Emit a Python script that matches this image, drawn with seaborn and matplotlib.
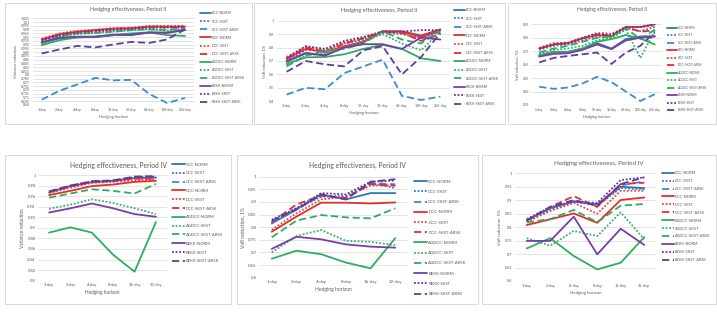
import matplotlib
matplotlib.use("Agg")
import matplotlib.pyplot as plt
from matplotlib.patches import Rectangle
import numpy as np
import pandas as pd
import seaborn as sns

SERIES = [
    "CCC-NORM", "CCC-SKST", "CCC-SKST-ARSK",
    "DCC-NORM", "DCC-SKST", "DCC-SKST-ARSK",
    "AGDCC-NORM", "AGDCC-SKST", "AGDCC-SKST-ARSK",
    "BEKK-NORM", "BEKK-SKST", "BEKK-SKST-ARSK",
]
HORIZONS_II = ["1-day", "2-day", "4-day", "8-day", "16-day", "32-day", "64-day", "128-day", "256-day"]
HORIZONS_IV = ["1-day", "2-day", "4-day", "8-day", "16-day", "32-day"]

# Period II, variance reduction
var_ii = {
    "CCC-NORM": [0.927, 0.945, 0.949, 0.950, 0.958, 0.958, 0.969, 0.968, 0.980],
    "CCC-SKST": [0.935, 0.955, 0.965, 0.970, 0.975, 0.980, 0.985, 0.975, 0.985],
    "CCC-SKST-ARSK": [0.701, 0.737, 0.762, 0.788, 0.778, 0.780, 0.724, 0.688, 0.708],
    "DCC-NORM": [0.941, 0.962, 0.972, 0.978, 0.984, 0.985, 0.992, 0.992, 0.992],
    "DCC-SKST": [0.944, 0.965, 0.975, 0.980, 0.986, 0.988, 0.995, 0.995, 0.995],
    "DCC-SKST-ARSK": [0.940, 0.961, 0.971, 0.977, 0.983, 0.985, 0.991, 0.990, 0.990],
    "AGDCC-NORM": [0.918, 0.938, 0.949, 0.952, 0.958, 0.965, 0.969, 0.958, 0.955],
    "AGDCC-SKST": [0.928, 0.952, 0.962, 0.966, 0.972, 0.977, 0.982, 0.975, 0.978],
    "AGDCC-SKST-ARSK": [0.925, 0.954, 0.965, 0.967, 0.972, 0.978, 0.981, 0.980, 0.985],
    "BEKK-NORM": [0.930, 0.948, 0.952, 0.952, 0.960, 0.960, 0.968, 0.967, 0.978],
    "BEKK-SKST": [0.938, 0.958, 0.968, 0.974, 0.980, 0.984, 0.990, 0.988, 0.993],
    "BEKK-SKST-ARSK": [0.885, 0.901, 0.915, 0.909, 0.921, 0.931, 0.927, 0.941, 0.981],
}

# Period II, VaR reduction 1%
var1_ii = {
    "CCC-NORM": [0.70, 0.76, 0.745, 0.80, 0.84, 0.92, 0.92, 0.88, 0.93],
    "CCC-SKST": [0.70, 0.78, 0.78, 0.83, 0.86, 0.91, 0.90, 0.87, 0.92],
    "CCC-SKST-ARSK": [0.45, 0.50, 0.49, 0.61, 0.66, 0.71, 0.44, 0.41, 0.435],
    "DCC-NORM": [0.715, 0.79, 0.765, 0.81, 0.845, 0.92, 0.92, 0.89, 0.935],
    "DCC-SKST": [0.73, 0.81, 0.78, 0.84, 0.87, 0.92, 0.91, 0.87, 0.92],
    "DCC-SKST-ARSK": [0.72, 0.80, 0.77, 0.83, 0.87, 0.92, 0.91, 0.85, 0.90],
    "AGDCC-NORM": [0.68, 0.727, 0.73, 0.75, 0.79, 0.82, 0.79, 0.72, 0.70],
    "AGDCC-SKST": [0.67, 0.74, 0.76, 0.80, 0.85, 0.90, 0.83, 0.78, 0.92],
    "AGDCC-SKST-ARSK": [0.66, 0.74, 0.78, 0.79, 0.83, 0.92, 0.86, 0.83, 0.93],
    "BEKK-NORM": [0.695, 0.757, 0.74, 0.80, 0.825, 0.825, 0.79, 0.875, 0.86],
    "BEKK-SKST": [0.72, 0.81, 0.79, 0.85, 0.88, 0.92, 0.92, 0.93, 0.93],
    "BEKK-SKST-ARSK": [0.62, 0.70, 0.675, 0.66, 0.78, 0.81, 0.60, 0.73, 0.91],
}

# Period II, VaR reduction 5%
var5_ii = {
    "CCC-NORM": [0.72, 0.745, 0.745, 0.77, 0.81, 0.77, 0.84, 0.86, 0.86],
    "CCC-SKST": [0.76, 0.79, 0.80, 0.83, 0.86, 0.85, 0.92, 0.90, 0.93],
    "CCC-SKST-ARSK": [0.486, 0.47, 0.48, 0.51, 0.56, 0.52, 0.45, 0.38, 0.43],
    "DCC-NORM": [0.77, 0.80, 0.81, 0.845, 0.87, 0.86, 0.93, 0.93, 0.95],
    "DCC-SKST": [0.775, 0.81, 0.815, 0.85, 0.885, 0.88, 0.93, 0.93, 0.94],
    "DCC-SKST-ARSK": [0.77, 0.80, 0.81, 0.845, 0.875, 0.865, 0.93, 0.895, 0.905],
    "AGDCC-NORM": [0.715, 0.745, 0.745, 0.77, 0.82, 0.84, 0.87, 0.845, 0.80],
    "AGDCC-SKST": [0.73, 0.76, 0.77, 0.79, 0.83, 0.85, 0.91, 0.70, 0.90],
    "AGDCC-SKST-ARSK": [0.74, 0.77, 0.79, 0.82, 0.85, 0.86, 0.92, 0.84, 0.91],
    "BEKK-NORM": [0.71, 0.73, 0.735, 0.76, 0.80, 0.765, 0.83, 0.85, 0.86],
    "BEKK-SKST": [0.77, 0.80, 0.81, 0.85, 0.88, 0.87, 0.93, 0.93, 0.95],
    "BEKK-SKST-ARSK": [0.667, 0.70, 0.715, 0.727, 0.74, 0.655, 0.74, 0.79, 0.89],
}

# Period IV, variance reduction
var_iv = {
    "CCC-NORM": [0.967, 0.979, 0.986, 0.989, 0.994, 0.995],
    "CCC-SKST": [0.967, 0.979, 0.987, 0.989, 0.995, 0.996],
    "CCC-SKST-ARSK": [0.968, 0.979, 0.987, 0.989, 0.995, 0.997],
    "DCC-NORM": [0.962, 0.970, 0.979, 0.982, 0.987, 0.989],
    "DCC-SKST": [0.966, 0.976, 0.985, 0.987, 0.990, 0.991],
    "DCC-SKST-ARSK": [0.968, 0.978, 0.987, 0.989, 0.993, 0.993],
    "AGDCC-NORM": [0.891, 0.901, 0.891, 0.849, 0.817, 0.911],
    "AGDCC-SKST": [0.936, 0.944, 0.954, 0.947, 0.937, 0.926],
    "AGDCC-SKST-ARSK": [0.957, 0.965, 0.973, 0.970, 0.965, 0.983],
    "BEKK-NORM": [0.929, 0.937, 0.946, 0.937, 0.926, 0.921],
    "BEKK-SKST": [0.968, 0.980, 0.988, 0.989, 0.996, 0.997],
    "BEKK-SKST-ARSK": [0.969, 0.980, 0.988, 0.990, 0.997, 0.998],
}

# Period IV, VaR reduction 1%
var1_iv = {
    "CCC-NORM": [0.815, 0.87, 0.93, 0.91, 0.935, 0.935],
    "CCC-SKST": [0.82, 0.875, 0.92, 0.925, 0.975, 0.955],
    "CCC-SKST-ARSK": [0.815, 0.87, 0.925, 0.915, 0.975, 0.97],
    "DCC-NORM": [0.782, 0.842, 0.897, 0.897, 0.894, 0.898],
    "DCC-SKST": [0.79, 0.855, 0.91, 0.92, 0.965, 0.965],
    "DCC-SKST-ARSK": [0.82, 0.89, 0.925, 0.915, 0.97, 0.965],
    "AGDCC-NORM": [0.675, 0.707, 0.693, 0.66, 0.637, 0.757],
    "AGDCC-SKST": [0.70, 0.765, 0.789, 0.746, 0.742, 0.729],
    "AGDCC-SKST-ARSK": [0.76, 0.826, 0.848, 0.839, 0.835, 0.875],
    "BEKK-NORM": [0.714, 0.762, 0.752, 0.732, 0.723, 0.719],
    "BEKK-SKST": [0.83, 0.875, 0.935, 0.93, 0.98, 0.985],
    "BEKK-SKST-ARSK": [0.825, 0.87, 0.93, 0.91, 0.98, 0.99],
}

# Period IV, VaR reduction 5%
var5_iv = {
    "CCC-NORM": [0.825, 0.87, 0.895, 0.885, 0.95, 0.945],
    "CCC-SKST": [0.82, 0.865, 0.895, 0.88, 0.945, 0.94],
    "CCC-SKST-ARSK": [0.825, 0.87, 0.90, 0.88, 0.955, 0.97],
    "DCC-NORM": [0.808, 0.829, 0.851, 0.816, 0.901, 0.91],
    "DCC-SKST": [0.82, 0.86, 0.89, 0.85, 0.935, 0.935],
    "DCC-SKST-ARSK": [0.825, 0.875, 0.915, 0.875, 0.96, 0.965],
    "AGDCC-NORM": [0.721, 0.759, 0.693, 0.643, 0.668, 0.763],
    "AGDCC-SKST": [0.759, 0.731, 0.786, 0.767, 0.855, 0.755],
    "AGDCC-SKST-ARSK": [0.818, 0.83, 0.864, 0.818, 0.88, 0.886],
    "BEKK-NORM": [0.749, 0.749, 0.839, 0.699, 0.794, 0.734],
    "BEKK-SKST": [0.83, 0.875, 0.895, 0.89, 0.975, 0.985],
    "BEKK-SKST-ARSK": [0.825, 0.875, 0.90, 0.88, 0.96, 0.985],
}

PALETTE = {
    "CCC-NORM": "#2E75B6", "CCC-SKST": "#4472C4", "CCC-SKST-ARSK": "#3A8DD0",
    "DCC-NORM": "#E62B2B", "DCC-SKST": "#E04848", "DCC-SKST-ARSK": "#E62B2B",
    "AGDCC-NORM": "#2EAD5E", "AGDCC-SKST": "#33B36A", "AGDCC-SKST-ARSK": "#2EAD5E",
    "BEKK-NORM": "#7A3DA8", "BEKK-SKST": "#7030A0", "BEKK-SKST-ARSK": "#5B3E9E",
}
DASHES = {s: ("" if s.endswith("NORM") else (1, 1) if s.endswith("-SKST") else (4, 2)) for s in SERIES}

W, H = 717, 314
TXT = "#595959"
GRID = "#D9D9D9"

sns.set_theme(style="white")
plt.rcParams["font.family"] = ["Lato", "DejaVu Sans"]


def px(x0, y0, x1, y1):
    return [x0 / W, 1 - y1 / H, (x1 - x0) / W, (y1 - y0) / H]


def long_frame(values, horizons):
    rows = []
    for s in SERIES:
        for h, v in zip(horizons, values[s]):
            rows.append({"horizon": h, "value": v, "series": s})
    return pd.DataFrame(rows)


panels = [
    dict(data=var_ii, hz=HORIZONS_II, box=(5, 3, 252, 124), ax=(32.7, 18.3, 194, 105),
         yt=np.arange(0.68, 1.026, 0.015), yl="Variance reduction", title="Hedging effectiveness, Period II",
         ty=10, leg=(200, 11.5, 8.4), fs=(4.0, 2.5, 2.6)),
    dict(data=var1_ii, hz=HORIZONS_II, box=(254, 3, 505, 124), ax=(277, 20.7, 450, 101.3),
         yt=np.arange(0.4, 1.001, 0.1), yl="VaR reduction, 1%", title="Hedging effectiveness, Period II",
         ty=10.7, leg=(454, 8.0, 8.9), fs=(4.0, 2.6, 2.6)),
    dict(data=var5_ii, hz=HORIZONS_II, box=(508, 3, 716, 124), ax=(532, 24.3, 662, 105),
         yt=np.arange(0.35, 0.951, 0.1), yl="VaR reduction, 5%", title="Hedging effectiveness, Period II",
         ty=9, leg=(667, 26.0, 7.3), fs=(3.6, 2.3, 2.3)),
    dict(data=var_iv, hz=HORIZONS_IV, box=(5, 155, 231, 304), ax=(38.4, 175, 166.6, 280.7),
         yt=np.arange(0.8, 1.001, 0.02), yl="Variance reduction", title="Hedging effectiveness, Period IV",
         ty=165, leg=(172, 162.5, 9.8), fs=(4.9, 3.0, 3.0)),
    dict(data=var1_iv, hz=HORIZONS_IV, box=(237, 155, 478, 304), ax=(259.4, 176.7, 407.6, 277.7),
         yt=np.arange(0.6, 1.001, 0.05), yl="VaR reduction, 1%", title="Hedging effectiveness, Period IV",
         ty=165, leg=(414, 179.5, 11.4), fs=(4.9, 3.2, 3.1)),
    dict(data=var5_iv, hz=HORIZONS_IV, box=(482, 155, 716, 304), ax=(515, 173.3, 656, 281),
         yt=np.arange(0.6, 1.001, 0.05), yl="VaR reduction, 5%", title="Hedging effectiveness, Period IV",
         ty=164, leg=(662, 171, 8.6), fs=(4.5, 2.8, 2.8)),
]

fig = plt.figure(figsize=(W / 100, H / 100), dpi=100)
fig.patch.set_facecolor("white")

for p in panels:
    bx0, by0, bx1, by1 = p["box"]
    fig.patches.append(Rectangle((bx0 / W, 1 - by1 / H), (bx1 - bx0) / W, (by1 - by0) / H,
                                 transform=fig.transFigure, facecolor="none",
                                 edgecolor=GRID, linewidth=0.7, zorder=-1))
    fs_title, fs_tick, fs_leg = p["fs"]
    ax = fig.add_axes(px(*p["ax"]))
    ax.set_facecolor("none")
    df = long_frame(p["data"], p["hz"])
    sns.lineplot(data=df, x="horizon", y="value", hue="series", style="series",
                 palette=PALETTE, dashes=DASHES, sort=False, linewidth=1.3, ax=ax)
    yt = np.round(p["yt"], 3)
    ax.set_ylim(yt[0], yt[-1])
    ax.set_yticks(yt)
    ax.set_yticklabels([f"{v:g}" for v in yt])
    ax.set_xlim(-0.5, len(p["hz"]) - 0.5)
    ax.grid(axis="y", color=GRID, linewidth=0.5)
    ax.set_axisbelow(True)
    for sp in ax.spines.values():
        sp.set_visible(False)
    ax.tick_params(length=0, labelsize=fs_tick, colors=TXT, pad=2)
    ax.set_xlabel("Hedging horizon", fontsize=fs_tick + 0.4, color=TXT, labelpad=2)
    ax.set_ylabel(p["yl"], fontsize=fs_tick + 0.4, color=TXT, labelpad=2)
    fig.text((bx0 + bx1) / 2 / W, 1 - p["ty"] / H, p["title"], ha="center", va="center",
             fontsize=fs_title, color=TXT)

    lx, ly, sp = p["leg"]
    handles, labels = ax.get_legend_handles_labels()
    fs_px = fs_leg * 100 / 72
    ls = max((sp - 1.2 * fs_px) / fs_px, 0.1)
    ax.legend(handles, labels, loc="upper left", bbox_to_anchor=(lx / W, 1 - ly / H),
              bbox_transform=fig.transFigure, frameon=False, fontsize=fs_leg,
              labelcolor=TXT, handlelength=3.0, handletextpad=0.3, labelspacing=ls,
              borderpad=0, borderaxespad=0)

fig.savefig("out.png", dpi=100, facecolor="white")
